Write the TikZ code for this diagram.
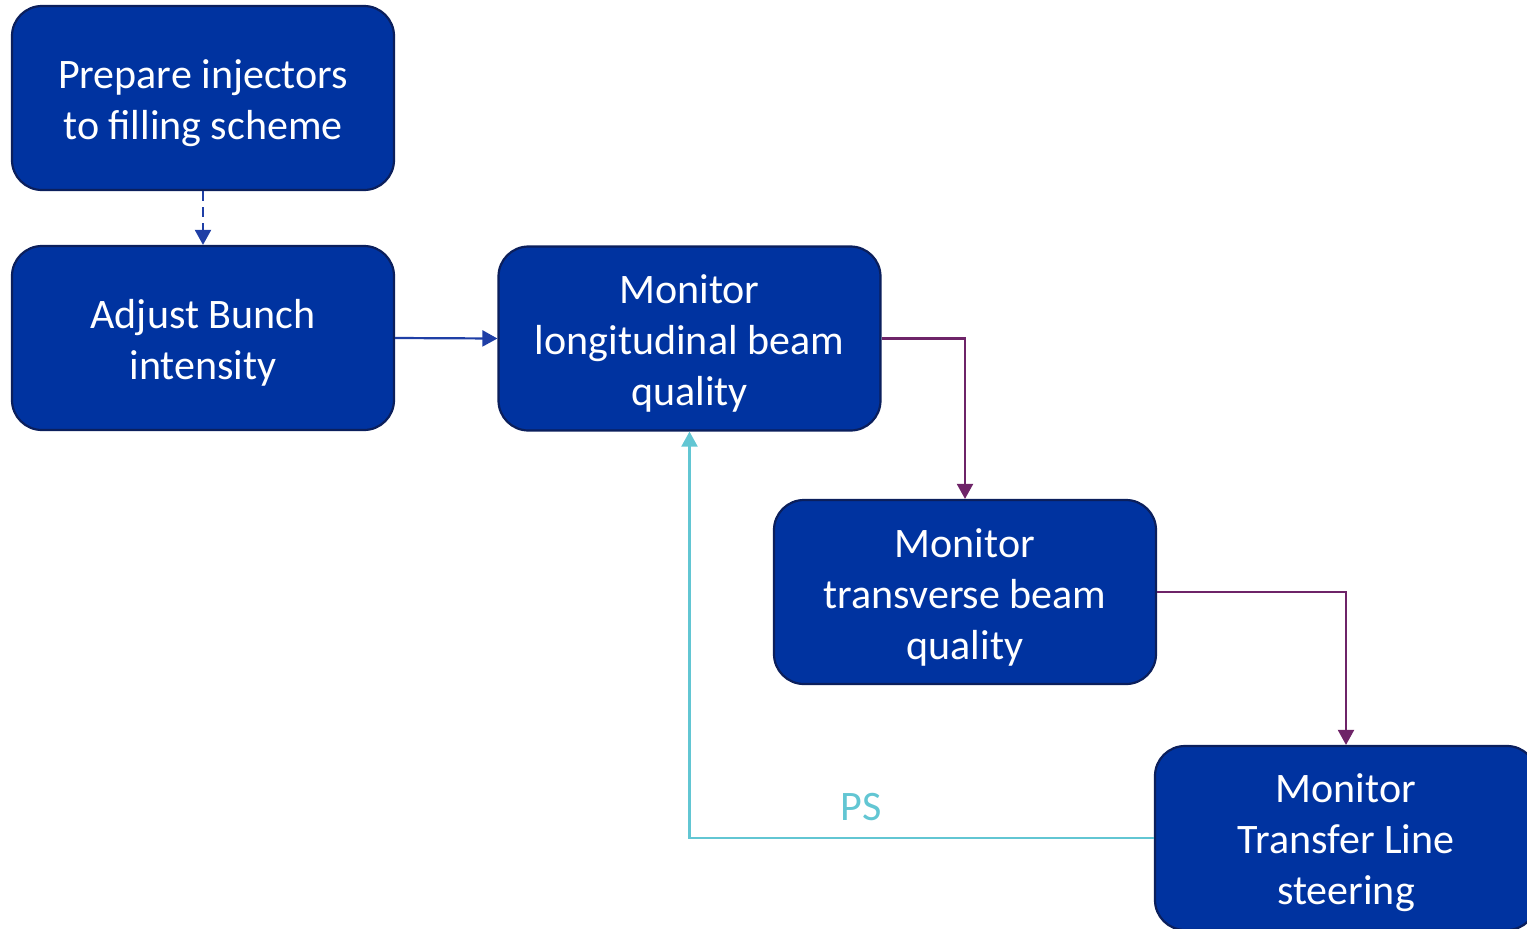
\documentclass[tikz,border=0pt]{standalone}
\usepackage{fontspec}
\setmainfont{Carlito}
\usetikzlibrary{arrows.meta}
\definecolor{boxfill}{HTML}{0033A0}
\definecolor{boxline}{HTML}{0B1F5C}
\definecolor{flowblue}{HTML}{1F3FA6}
\definecolor{flowpurple}{HTML}{6E2468}
\definecolor{flowcyan}{HTML}{62C6D3}
% fixed-height strut on the first line so every box text sits at the same level
\newcommand{\firststrut}{\rule{0pt}{19.5pt}}
\tikzset{
  stepbox/.style={draw=boxline, line width=1.1pt, fill=boxfill, rounded corners=15pt,
    minimum width=191pt, minimum height=92pt, text=white, align=center,
    font=\fontsize{21}{25.5}\selectfont, inner sep=0pt},
  flow/.style={line width=1.1pt, -{Triangle[length=7.5pt,width=8pt]}},
}
\begin{document}
\begin{tikzpicture}[x=0.5pt,y=-0.5pt]
\useasboundingbox (0,0) rectangle (1527,928);
\node[stepbox] (prep) at (203,98) {\firststrut Prepare injectors\\to filling scheme};
\node[stepbox] (adj) at (203,338) {\firststrut Adjust Bunch\\intensity};
\node[stepbox] (lon) at (689.5,338.5) {\firststrut Monitor\\longitudinal beam\\quality};
\node[stepbox] (tra) at (965,592) {\firststrut Monitor\\transverse beam\\quality};
\node[stepbox] (tl) at (1346,838) {\firststrut Monitor\\Transfer Line\\steering};
\draw[flow, flowblue, dashed, dash pattern=on 5pt off 3pt] (prep.south) -- (adj.north);
\draw[flow, flowblue] (adj.east) -- (lon.west);
\draw[flow, flowpurple] (lon.east) -| (tra.north);
\draw[flow, flowpurple] (tra.east) -| (tl.north);
\draw[flow, flowcyan] (tl.west) -| (lon.south);
\node[text=flowcyan, font=\fontsize{21}{25}\selectfont] (ps) at (861,807) {PS};
\end{tikzpicture}
\end{document}
